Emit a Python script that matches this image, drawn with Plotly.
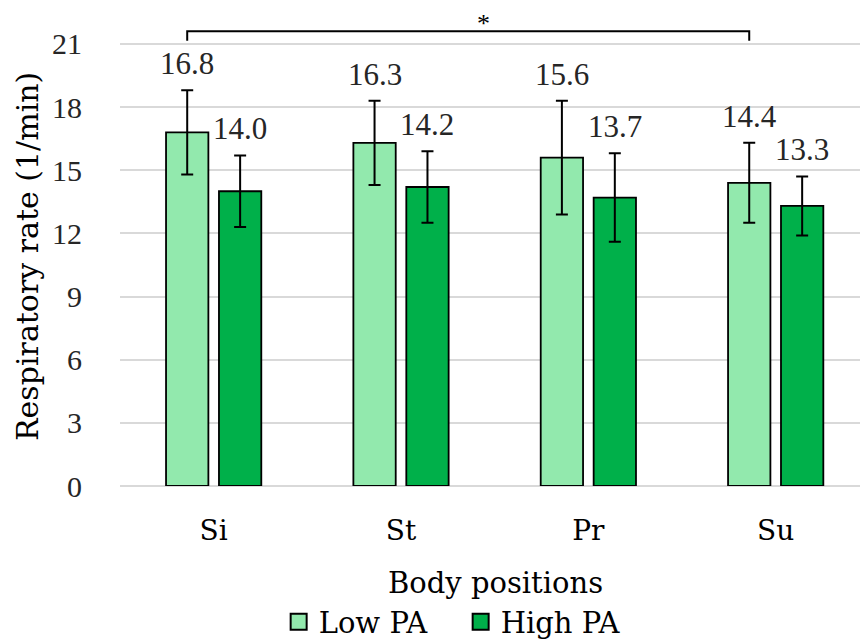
import plotly.graph_objects as go

categories = ["Si", "St", "Pr", "Su"]
low_pa = [16.8, 16.3, 15.6, 14.4]
low_pa_err = [2.0, 2.0, 2.7, 1.9]
high_pa = [14.0, 14.2, 13.7, 13.3]
high_pa_err = [1.7, 1.7, 2.1, 1.4]
series_names = ["Low PA", "High PA"]
y_ticks = [0, 3, 6, 9, 12, 15, 18, 21]
sig_pair = ("Si", "Su")  # Low PA bars compared
sig_label = "*"

NUM_FONT = "Liberation Serif"
TXT_FONT = "DejaVu Serif"
LIGHT = "#92E9AD"
DARK = "#00B04A"
BARGAP = 0.435

fig = go.Figure()
for name, vals, errs, col in [(series_names[0], low_pa, low_pa_err, LIGHT),
                              (series_names[1], high_pa, high_pa_err, DARK)]:
    fig.add_trace(go.Bar(
        x=categories, y=vals, name=name, showlegend=False,
        marker=dict(color=col, line=dict(color="black", width=1.8)),
        error_y=dict(type="data", array=errs, visible=True, color="black",
                     thickness=2, width=6),
    ))
# legend entries (larger square swatches)
for name, col in [(series_names[0], LIGHT), (series_names[1], DARK)]:
    fig.add_trace(go.Scatter(
        x=[None], y=[None], mode="markers", name=name, showlegend=True,
        marker=dict(symbol="square", size=16, color=col,
                    line=dict(color="black", width=2)),
    ))

# value labels above error bars
slot = (1 - BARGAP) / 2
for si, (vals, errs) in enumerate([(low_pa, low_pa_err), (high_pa, high_pa_err)]):
    off = (si - 0.5) * slot
    for i, (v, e) in enumerate(zip(vals, errs)):
        fig.add_annotation(x=i + off, y=v + e, xref="x", yref="y",
                           text=f"{v:.1f}", showarrow=False, yanchor="bottom",
                           yshift=7, font=dict(family=NUM_FONT, size=31, color="#262626"))

# significance bracket
x0 = categories.index(sig_pair[0]) - 0.5 * slot
x1 = categories.index(sig_pair[1]) - 0.5 * slot
top, drop = 21.6, 21.15
fig.add_shape(type="path", xref="x", yref="y",
              path=f"M {x0},{drop} L {x0},{top} L {x1},{top} L {x1},{drop}",
              line=dict(color="black", width=2))
fig.add_annotation(x=(x0 + x1) / 2, y=top, xref="x", yref="y", text=sig_label,
                   showarrow=False, yanchor="bottom", yshift=-9, xshift=15,
                   font=dict(family=NUM_FONT, size=26, color="black"))

fig.add_annotation(x=-0.1243, y=0.499, xref="paper", yref="paper", xanchor="center",
                   yanchor="middle",
                   text="Respiratory rate (1/min)", textangle=-90, showarrow=False,
                   font=dict(family=TXT_FONT, size=30, color="black"))
fig.add_annotation(x=0.508, y=-0.211, xref="paper", yref="paper", xanchor="center",
                   yanchor="middle",
                   text="Body positions", showarrow=False,
                   font=dict(family=TXT_FONT, size=29, color="black"))

fig.update_layout(
    width=860, height=644,
    margin=dict(l=120, r=0, t=27, b=158, autoexpand=False),
    paper_bgcolor="white", plot_bgcolor="white",
    barmode="group", bargap=BARGAP, bargroupgap=0.2,
    font=dict(family=TXT_FONT, color="black"),
    showlegend=True,
    legend=dict(orientation="h", x=0.2144, xanchor="left", y=-0.296, yanchor="middle",
                font=dict(family=TXT_FONT, size=29, color="black"),
                itemsizing="trace", traceorder="normal", entrywidth=137),
    xaxis=dict(range=[-0.5, 3.45], showgrid=False, showline=False, zeroline=False,
               ticks="outside", ticklen=19, tickcolor="rgba(0,0,0,0)",
               tickfont=dict(family=TXT_FONT, size=28, color="black")),
    yaxis=dict(range=[0, 21.8], tickvals=y_ticks, showgrid=True, gridcolor="#D9D9D9",
               gridwidth=2, zeroline=True, zerolinecolor="#D9D9D9", zerolinewidth=2,
               showline=False, ticks="outside", ticklen=31, tickcolor="rgba(0,0,0,0)",
               tickfont=dict(family=NUM_FONT, size=30, color="#262626")),
)

fig.write_html("out.html")
